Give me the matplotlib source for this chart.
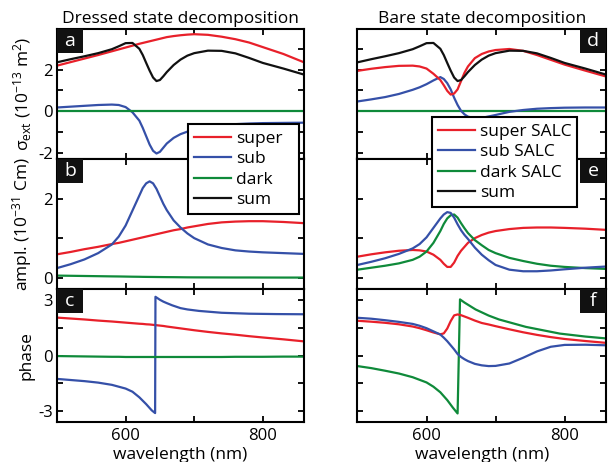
import matplotlib
matplotlib.use("Agg")
import matplotlib.pyplot as plt
from matplotlib.patches import Rectangle

plt.rcParams["font.family"] = ["Open Sans", "DejaVu Sans"]
plt.rcParams["mathtext.fontset"] = "custom"
plt.rcParams["mathtext.rm"] = "Open Sans"
plt.rcParams["mathtext.it"] = "Open Sans:italic"
plt.rcParams["axes.unicode_minus"] = False

RED = "#e8202a"
BLUE = "#3550a8"
GREEN = "#0f8a3a"
BLACK = "#111111"

# common wavelength grid (nm)
wl = [500, 520, 540, 560, 580, 590, 600, 610, 620, 625, 630, 635, 640, 645,
      650, 655, 660, 670, 680, 690, 700, 720, 740, 760, 780, 800, 830, 860]

# ---- extinction cross section (1e-13 m^2) ----
sum_ext = [2.35, 2.50, 2.64, 2.79, 2.98, 3.12, 3.27, 3.28, 3.00, 2.70, 2.32, 1.95,
           1.62, 1.45, 1.50, 1.68, 1.88, 2.22, 2.48, 2.67, 2.79, 2.91, 2.90, 2.78,
           2.56, 2.32, 2.05, 1.76]
super_ext = [2.19, 2.36, 2.53, 2.70, 2.88, 2.97, 3.06, 3.15, 3.24, 3.28, 3.32, 3.36,
             3.40, 3.44, 3.48, 3.52, 3.56, 3.61, 3.65, 3.68, 3.70, 3.67, 3.58, 3.46,
             3.30, 3.08, 2.75, 2.35]
sub_ext = [0.18, 0.22, 0.26, 0.30, 0.32, 0.30, 0.20, -0.05, -0.45, -0.80, -1.20, -1.60,
           -1.90, -2.03, -1.95, -1.75, -1.55, -1.28, -1.10, -0.98, -0.88, -0.74, -0.66,
           -0.62, -0.59, -0.57, -0.56, -0.55]
dark_ext = [0.0] * len(wl)

super_salc_ext = [1.94, 2.04, 2.12, 2.18, 2.19, 2.15, 2.05, 1.80, 1.50, 1.25, 0.98, 0.80,
                  0.85, 1.05, 1.45, 1.85, 2.15, 2.55, 2.75, 2.87, 2.94, 2.99, 2.90,
                  2.70, 2.47, 2.24, 1.95, 1.67]
sub_salc_ext = [0.47, 0.57, 0.68, 0.83, 1.03, 1.15, 1.30, 1.48, 1.64, 1.55, 1.35, 1.05,
                0.65, 0.30, 0.02, -0.15, -0.26, -0.34, -0.32, -0.25, -0.18, -0.03, 0.06,
                0.12, 0.15, 0.17, 0.18, 0.18]
dark_salc_ext = [0.0] * len(wl)

# ---- amplitude (1e-31 Cm) ----
super_amp = [0.59, 0.65, 0.72, 0.78, 0.85, 0.88, 0.92, 0.96, 1.00, 1.02, 1.04, 1.06,
             1.08, 1.10, 1.12, 1.14, 1.16, 1.20, 1.23, 1.27, 1.30, 1.36, 1.40, 1.42,
             1.43, 1.43, 1.41, 1.38]
sub_amp = [0.24, 0.34, 0.46, 0.62, 0.84, 1.04, 1.32, 1.70, 2.08, 2.27, 2.39, 2.44,
           2.39, 2.25, 2.06, 1.87, 1.71, 1.45, 1.27, 1.12, 1.00, 0.84, 0.75, 0.69,
           0.66, 0.64, 0.62, 0.60]
dark_amp = [0.05, 0.045, 0.04, 0.035, 0.03, 0.028, 0.025, 0.022, 0.02, 0.018, 0.017,
            0.016, 0.015, 0.014, 0.013, 0.012, 0.011, 0.01, 0.008, 0.006, 0.005, 0.004,
            0.003, 0.002, 0.002, 0.001, 0.0, 0.0]

super_salc_amp = [0.53, 0.59, 0.64, 0.68, 0.70, 0.69, 0.66, 0.58, 0.45, 0.35, 0.27, 0.27,
                  0.38, 0.55, 0.68, 0.78, 0.88, 1.00, 1.08, 1.14, 1.18, 1.23, 1.26,
                  1.27, 1.27, 1.26, 1.24, 1.21]
sub_salc_amp = [0.32, 0.40, 0.49, 0.60, 0.74, 0.85, 1.02, 1.26, 1.50, 1.60, 1.66, 1.64,
                1.52, 1.35, 1.20, 1.08, 0.98, 0.76, 0.58, 0.44, 0.32, 0.20, 0.16, 0.16,
                0.18, 0.21, 0.25, 0.28]
dark_salc_amp = [0.20, 0.25, 0.30, 0.36, 0.45, 0.53, 0.66, 0.88, 1.18, 1.36, 1.50, 1.58,
                 1.60, 1.52, 1.38, 1.25, 1.13, 0.95, 0.82, 0.70, 0.62, 0.50, 0.42, 0.35,
                 0.30, 0.27, 0.24, 0.22]

# ---- phase ----
super_phase = [2.04, 1.99, 1.94, 1.88, 1.83, 1.80, 1.77, 1.74, 1.71, 1.70, 1.68, 1.67,
               1.65, 1.63, 1.61, 1.59, 1.56, 1.51, 1.46, 1.41, 1.36, 1.27, 1.19, 1.12,
               1.04, 0.97, 0.87, 0.76]
dark_phase = [-0.03, -0.04, -0.05, -0.06, -0.07, -0.07, -0.08, -0.08, -0.08, -0.08,
              -0.08, -0.08, -0.08, -0.08, -0.08, -0.08, -0.08, -0.08, -0.08, -0.08,
              -0.08, -0.08, -0.08, -0.07, -0.07, -0.07, -0.06, -0.06]
wl_sub_phase = [500, 540, 560, 580, 600, 610, 620, 630, 638, 643, 643.5, 650, 655, 660,
                668, 680, 690, 707, 740, 780, 820, 860]
sub_phase = [-1.26, -1.38, -1.46, -1.58, -1.78, -1.95, -2.25, -2.62, -2.95, -3.10,
             3.16, 3.00, 2.90, 2.82, 2.70, 2.55, 2.48, 2.40, 2.30, 2.25, 2.23, 2.22]

super_salc_phase = [1.87, 1.82, 1.76, 1.68, 1.56, 1.47, 1.36, 1.24, 1.14, 1.19, 1.45,
                    1.85, 2.16, 2.21, 2.17, 2.10, 2.03, 1.88, 1.75, 1.67, 1.58, 1.41,
                    1.25, 1.11, 0.99, 0.89, 0.78, 0.68]
sub_salc_phase = [2.03, 1.98, 1.90, 1.81, 1.70, 1.60, 1.47, 1.30, 1.13, 0.96, 0.77, 0.55,
                  0.33, 0.08, -0.08, -0.20, -0.30, -0.45, -0.53, -0.57, -0.56, -0.43,
                  -0.12, 0.22, 0.47, 0.57, 0.58, 0.55]
wl_dark_salc_phase = [500, 520, 540, 560, 580, 600, 610, 620, 630, 638, 645, 648.5, 655,
                      671, 690, 705, 744, 793, 830, 860]
dark_salc_phase = [-0.57, -0.68, -0.82, -0.97, -1.17, -1.45, -1.68, -1.98, -2.40, -2.80,
                   -3.12, 3.02, 2.85, 2.48, 2.15, 1.94, 1.54, 1.18, 1.02, 0.92]

W, H = 608, 462
fig = plt.figure(figsize=(W / 100, H / 100), dpi=100)


def px_axes(x0, x1, y0, y1):
    return fig.add_axes([x0 / W, 1 - y1 / H, (x1 - x0) / W, (y1 - y0) / H])


rows = [(29, 158.5), (158.5, 289), (289, 422)]
cols = [(57, 304), (357.5, 606)]
axes = [[px_axes(c[0], c[1], r[0], r[1]) for c in cols] for r in rows]

lw = 1.6
(a, d), (b, e), (c, f) = axes

a.plot(wl, super_ext, color=RED, lw=lw, label="super")
a.plot(wl, sub_ext, color=BLUE, lw=lw, label="sub")
a.plot(wl, dark_ext, color=GREEN, lw=lw, label="dark")
a.plot(wl, sum_ext, color=BLACK, lw=lw, label="sum")

d.plot(wl, dark_salc_ext, color=GREEN, lw=lw)
d.plot(wl, sub_salc_ext, color=BLUE, lw=lw)
d.plot(wl, super_salc_ext, color=RED, lw=lw)
d.plot(wl, sum_ext, color=BLACK, lw=lw)

b.plot(wl, super_amp, color=RED, lw=lw)
b.plot(wl, sub_amp, color=BLUE, lw=lw)
b.plot(wl, dark_amp, color=GREEN, lw=lw)

e.plot(wl, super_salc_amp, color=RED, lw=lw)
e.plot(wl, dark_salc_amp, color=GREEN, lw=lw)
e.plot(wl, sub_salc_amp, color=BLUE, lw=lw)

c.plot(wl, super_phase, color=RED, lw=lw)
c.plot(wl_sub_phase, sub_phase, color=BLUE, lw=lw)
c.plot(wl, dark_phase, color=GREEN, lw=lw)

f.plot(wl_dark_salc_phase, dark_salc_phase, color=GREEN, lw=lw)
f.plot(wl, super_salc_phase, color=RED, lw=lw)
f.plot(wl, sub_salc_phase, color=BLUE, lw=lw)

ylims = [(-2.27, 3.95), (-0.29, 3.02), (-3.58, 3.58)]
yticks = [[-2, -1, 0, 1, 2, 3], [0, 1, 2, 3], [-3, -1.5, 0, 1.5, 3]]
ylabs = [[-2, 0, 2], [0, 2], [-3, 0, 3]]
letters = [["a", "d"], ["b", "e"], ["c", "f"]]

for i in range(3):
    for j in range(2):
        ax = axes[i][j]
        ax.set_xlim(500, 860)
        ax.set_ylim(*ylims[i])
        ax.set_xticks([500, 600, 700, 800])
        ax.set_yticks(yticks[i])
        ax.tick_params(direction="in", length=4, width=1.3, top=True, right=True,
                       labelsize=12, pad=3)
        ax.tick_params(axis="x", pad=4.5)
        for s in ax.spines.values():
            s.set_linewidth(1.5)
        if i == 2:
            ax.set_xticklabels(["", "600", "", "800"])
            ax.set_xlabel("wavelength (nm)", fontsize=12.5)
            ax.xaxis.set_label_coords(0.5, -0.19)
        else:
            ax.set_xticklabels([])
        if j == 0:
            ax.set_yticklabels([str(t) if t in ylabs[i] else "" for t in yticks[i]])
        else:
            ax.set_yticklabels([])
        # panel letter in a black box
        bbox = ax.get_position()
        bw = 26 / (bbox.width * W)
        bh = 24 / (bbox.height * H)
        x0 = 0 if j == 0 else 1 - bw
        ax.add_patch(Rectangle((x0, 1 - bh), bw, bh, transform=ax.transAxes,
                               facecolor="#111111", edgecolor="none", zorder=5))
        ax.text(x0 + bw / 2, 1 - bh / 2, letters[i][j], transform=ax.transAxes,
                color="white", fontsize=14, ha="center", va="center", zorder=6)

a.set_ylabel("σ$_\\mathrm{ext}$ (10$^{-13}$ m$^2$)", fontsize=12.5)
b.set_ylabel("ampl. (10$^{-31}$ Cm)", fontsize=12.5)
c.set_ylabel("phase", fontsize=12.5)
for ax in (a, b, c):
    ax.yaxis.set_label_coords(-0.093, 0.5)

a.set_title("Dressed state decomposition", fontsize=12.5, pad=4)
d.set_title("Bare state decomposition", fontsize=12.5, pad=4)

h = a.get_lines()
leg_kw = dict(loc="upper left", fontsize=12.5, mode="expand", frameon=True,
              fancybox=False, edgecolor="black", framealpha=1, handlelength=2.1,
              handletextpad=0.3, labelspacing=0.25, borderpad=0.35, borderaxespad=0)
leg1 = fig.legend(h, ["super", "sub", "dark", "sum"],
                  bbox_to_anchor=(188 / W, 1 - 129 / H, 111 / W, 0.01), **leg_kw)
leg1.get_frame().set_linewidth(1.5)
leg2 = fig.legend(h, ["super SALC", "sub SALC", "dark SALC", "sum"],
                  bbox_to_anchor=(432 / W, 1 - 122 / H, 145 / W, 0.01), **leg_kw)
leg2.get_frame().set_linewidth(1.5)

fig.savefig("out.png", dpi=100)
